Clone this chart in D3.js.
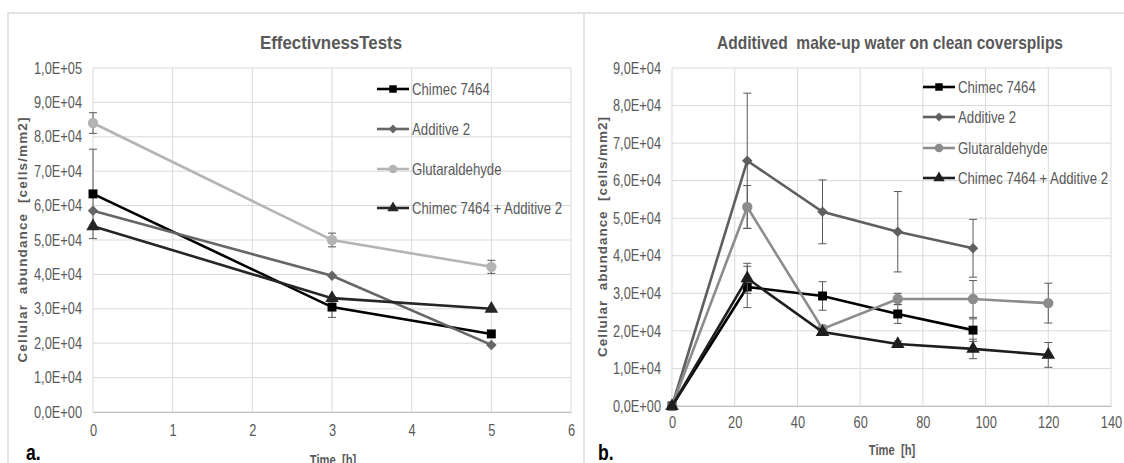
<!DOCTYPE html>
<html>
<head>
<meta charset="utf-8">
<script src="https://cdn.jsdelivr.net/npm/d3@7"></script>
<style>
  body { margin: 0; background: #fff; }
  svg { display: block; }
  text { font-family: "Liberation Sans", Arial, sans-serif; }
</style>
</head>
<body>
<svg id="chart" width="1124" height="463"></svg>
<script>
// panel a: effectiveness tests
const seriesNames = ["Chimec 7464", "Additive 2", "Glutaraldehyde", "Chimec 7464 + Additive 2"];
const timeA = [0, 3, 5];
const chimecA = [63400, 30500, 22700];
const additiveA = [58500, 39600, 19500];
const glutA = [84000, 50000, 42200];
const mixA = [54000, 33100, 30000];
const errChimecA = [13000, 3000, 0];
const errAdditiveA = [0, 0, 0];
const errGlutA = [3000, 2000, 1900];
const errMixA = [0, 0, 0];

// panel b: make-up water on clean coverslips
const timeB = [0, 24, 48, 72, 96, 120];
const chimecB = [0, 31700, 29300, 24500, 20200, null];
const additiveB = [0, 65300, 51700, 46400, 42000, null];
const glutB = [0, 53000, 20500, 28500, 28500, 27400];
const mixB = [0, 34000, 19700, 16500, 15200, 13600];
const errChimecB = [0, 5500, 3800, 2500, 3000, null];
const errAdditiveB = [0, 18000, 8500, 10700, 7700, null];
const errGlutB = [0, 5700, 1000, 1500, 4900, 5300];
const errMixB = [1000, 4000, 800, 800, 2600, 3300];

const yTicksA = d3.range(0, 100001, 10000);
const yTicksB = d3.range(0, 90001, 10000);

const sciFmt = v => {
  if (v === 0) return "0,0E+00";
  const e = Math.floor(Math.log10(v));
  const m = v / Math.pow(10, e);
  return m.toFixed(1).replace(".", ",") + "E+" + String(e).padStart(2, "0");
};

const svg = d3.select("#chart");
const gridColor = "#d9d9d9";
const textColor = "#595959";

// outer frames
svg.append("path").attr("d", "M8,463V13H1124").attr("fill", "none").attr("stroke", "#d9d9d9").attr("stroke-width", 1.5);
svg.append("line").attr("x1", 584).attr("x2", 584).attr("y1", 13).attr("y2", 463).attr("stroke", "#d9d9d9").attr("stroke-width", 1.5);

// excel style diamond = square turned 45deg
const markerTransform = (s, px, py) => `translate(${px},${py})` + (s.rotate ? " rotate(45)" : "");

function panel(cfg) {
  const g = svg.append("g");
  const x = d3.scaleLinear().domain(cfg.xDomain).range(cfg.xRange);
  const y = d3.scaleLinear().domain(cfg.yDomain).range(cfg.yRange);

  // grid
  g.append("g").selectAll("line").data(cfg.yTicks).join("line")
    .attr("x1", cfg.xRange[0]).attr("x2", cfg.xRange[1])
    .attr("y1", d => y(d)).attr("y2", d => y(d))
    .attr("stroke", gridColor).attr("stroke-width", 1);
  g.append("g").selectAll("line").data(x.ticks(cfg.xTickCount)).join("line")
    .attr("x1", d => x(d)).attr("x2", d => x(d))
    .attr("y1", cfg.yRange[0]).attr("y2", cfg.yRange[1])
    .attr("stroke", gridColor).attr("stroke-width", 1);

  // axes
  const xAxis = g.append("g").attr("transform", `translate(0,${cfg.yRange[0]})`)
    .call(d3.axisBottom(x).ticks(cfg.xTickCount).tickSize(0).tickPadding(cfg.xPad));
  xAxis.select(".domain").attr("stroke", "#bfbfbf");
  xAxis.selectAll("text").attr("class", "narrow").attr("font-size", 16).attr("fill", textColor);

  const yAxis = g.append("g").attr("transform", `translate(${cfg.xRange[0]},0)`)
    .call(d3.axisLeft(y).tickValues(cfg.yTicks).tickFormat(sciFmt).tickSize(0).tickPadding(11));
  yAxis.select(".domain").remove();
  yAxis.selectAll("text").attr("class", "narrow").attr("font-size", 16).attr("fill", textColor);

  // series
  cfg.series.forEach(s => {
    const pts = cfg.times.map((t, i) => ({ t, v: s.values[i], e: s.errors[i] })).filter(p => p.v != null);
    // error bars
    const eb = g.append("g").attr("stroke", "#595959").attr("stroke-width", 1);
    pts.filter(p => p.e > 0).forEach(p => {
      const cx = x(p.t);
      eb.append("line").attr("x1", cx).attr("x2", cx).attr("y1", y(p.v - p.e)).attr("y2", y(p.v + p.e));
      [p.v - p.e, p.v + p.e].forEach(v => {
        eb.append("line").attr("x1", cx - 4).attr("x2", cx + 4).attr("y1", y(v)).attr("y2", y(v));
      });
    });
    g.append("path").datum(pts)
      .attr("fill", "none").attr("stroke", s.color).attr("stroke-width", 2.6)
      .attr("d", d3.line().x(p => x(p.t)).y(p => y(p.v)));
    g.append("g").selectAll("path").data(pts).join("path")
      .attr("transform", p => markerTransform(s, x(p.t), y(p.v)))
      .attr("d", d3.symbol().type(s.symbol).size(s.size))
      .attr("fill", s.color);
  });

  // legend
  const lg = g.append("g");
  cfg.series.forEach((s, i) => {
    const ly = cfg.legend.y[i];
    lg.append("line").attr("x1", cfg.legend.x).attr("x2", cfg.legend.x + 32)
      .attr("y1", ly).attr("y2", ly).attr("stroke", s.color).attr("stroke-width", 2.6);
    lg.append("path").attr("transform", markerTransform(s, cfg.legend.x + 16, ly))
      .attr("d", d3.symbol().type(s.symbol).size(s.size * 0.7)).attr("fill", s.color);
    lg.append("text").attr("class", "narrow").attr("x", cfg.legend.x + 35).attr("y", ly)
      .attr("dy", "0.35em").attr("font-size", 16.5).attr("fill", textColor).text(s.name);
  });

  // titles
  g.append("text").attr("x", cfg.titleX).attr("y", 49)
    .attr("text-anchor", "middle").attr("font-size", 19).attr("font-weight", "bold")
    .attr("textLength", cfg.titleLen).attr("lengthAdjust", "spacingAndGlyphs")
    .attr("fill", textColor).attr("xml:space", "preserve").text(cfg.title);
  g.append("text").attr("transform", `translate(${cfg.yLabelX},${cfg.yLabelY}) rotate(-90)`)
    .attr("text-anchor", "middle")
    .attr("font-size", 13.5).attr("font-weight", "bold")
    .attr("textLength", cfg.yLabelLen).attr("lengthAdjust", "spacing")
    .attr("fill", textColor).attr("xml:space", "preserve").text("Cellular  abundance  [cells/mm2]");
  g.append("text").attr("class", "narrow").attr("x", cfg.xLabelX).attr("y", cfg.xLabelY)
    .attr("text-anchor", "middle").attr("font-size", 14).attr("font-weight", "bold")
    .attr("fill", textColor).attr("xml:space", "preserve").text("Time  [h]");
  g.append("text").attr("class", "narrow").attr("x", cfg.tagX).attr("y", 460)
    .attr("font-size", 22).attr("font-weight", "bold").attr("fill", "#000").text(cfg.tag);
}

panel({
  title: "EffectivnessTests", titleX: 331, titleLen: 142,
  times: timeA, xDomain: [0, 6], xRange: [93, 571], xTickCount: 6, xPad: 13,
  yDomain: [0, 100000], yRange: [412, 68], yTicks: yTicksA,
  yLabelX: 27, yLabelY: 240, yLabelLen: 245, xLabelX: 333, xLabelY: 465, tag: "a.", tagX: 26,
  legend: { x: 377, y: [89, 129, 169, 208] },
  series: [
    { name: seriesNames[0], values: chimecA, errors: errChimecA, color: "#000000", symbol: d3.symbolSquare, size: 80 },
    { name: seriesNames[1], values: additiveA, errors: errAdditiveA, color: "#666666", symbol: d3.symbolSquare, size: 55, rotate: true },
    { name: seriesNames[2], values: glutA, errors: errGlutA, color: "#b4b4b4", symbol: d3.symbolCircle, size: 85 },
    { name: seriesNames[3], values: mixA, errors: errMixA, color: "#262626", symbol: d3.symbolTriangle, size: 80 }
  ]
});

panel({
  title: "Additived  make-up water on clean coversplips", titleX: 890, titleLen: 346,
  times: timeB, xDomain: [0, 140], xRange: [672, 1111], xTickCount: 7, xPad: 11,
  yDomain: [0, 90000], yRange: [406, 68], yTicks: yTicksB,
  yLabelX: 607, yLabelY: 237, yLabelLen: 240, xLabelX: 892, xLabelY: 455, tag: "b.", tagX: 598,
  legend: { x: 923, y: [87, 117, 148, 178] },
  series: [
    { name: seriesNames[0], values: chimecB, errors: errChimecB, color: "#000000", symbol: d3.symbolSquare, size: 80 },
    { name: seriesNames[1], values: additiveB, errors: errAdditiveB, color: "#5f5f5f", symbol: d3.symbolSquare, size: 55, rotate: true },
    { name: seriesNames[2], values: glutB, errors: errGlutB, color: "#8c8c8c", symbol: d3.symbolCircle, size: 85 },
    { name: seriesNames[3], values: mixB, errors: errMixB, color: "#1e1e1e", symbol: d3.symbolTriangle, size: 80 }
  ]
});

// condensed look: squeeze the narrow texts horizontally
svg.selectAll("text.narrow").each(function() {
  const len = this.getComputedTextLength();
  d3.select(this).attr("textLength", len * 0.8).attr("lengthAdjust", "spacingAndGlyphs");
});
</script>
</body>
</html>
